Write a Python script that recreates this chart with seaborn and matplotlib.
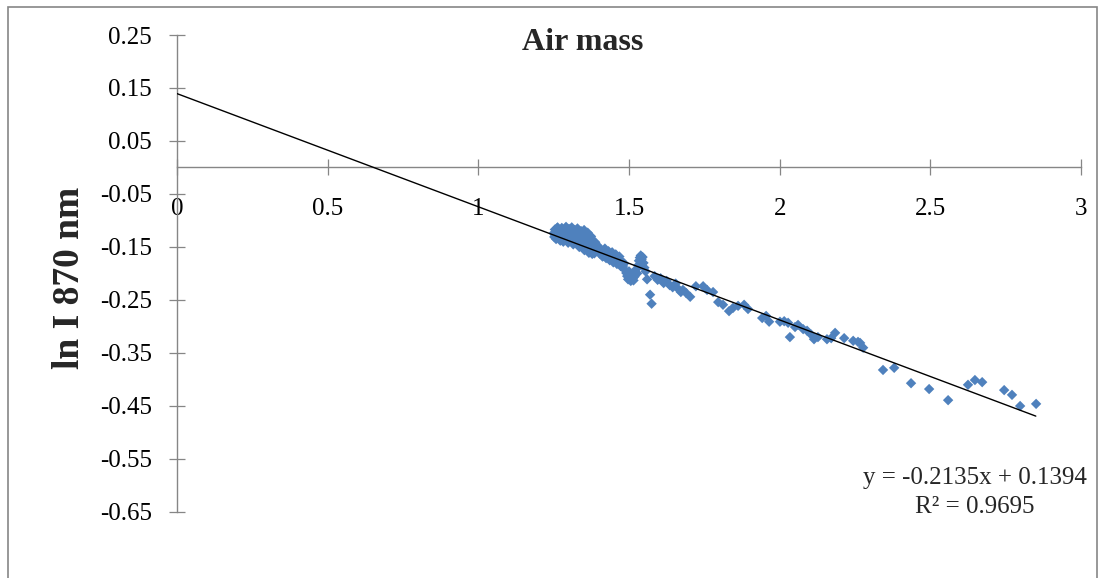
import numpy as np
import pandas as pd
import seaborn as sns
import matplotlib.pyplot as plt
from matplotlib.patches import Rectangle

# --- data ---
air_mass = [
    # dense morning cluster
    1.250, 1.252, 1.254, 1.256, 1.258, 1.261, 1.263, 1.266, 1.268, 1.270,
    1.272, 1.275, 1.277, 1.279, 1.282, 1.284, 1.286, 1.289, 1.291, 1.293,
    1.296, 1.298, 1.301, 1.303, 1.305, 1.308, 1.310, 1.312, 1.315, 1.317,
    1.320, 1.322, 1.324, 1.327, 1.329, 1.332, 1.334, 1.336, 1.339, 1.341,
    1.344, 1.346, 1.348, 1.351, 1.353, 1.356, 1.358, 1.361, 1.363, 1.366,
    1.368, 1.371, 1.374, 1.376, 1.379, 1.382, 1.385, 1.388, 1.391, 1.394,
    1.260, 1.272, 1.284, 1.296, 1.308, 1.320, 1.332, 1.344, 1.356, 1.368,
    1.265, 1.289, 1.301, 1.325, 1.337, 1.349, 1.361, 1.373, 1.385, 1.397,
    1.400, 1.404, 1.408, 1.412, 1.416, 1.420, 1.424, 1.428, 1.432, 1.436,
    1.440, 1.444, 1.448, 1.452, 1.456, 1.460, 1.464, 1.468, 1.472, 1.476,
    1.405, 1.415, 1.425, 1.435, 1.445, 1.455, 1.465, 1.475,
    1.480, 1.484, 1.488, 1.491, 1.494, 1.497, 1.500, 1.503, 1.506, 1.509,
    1.512, 1.515, 1.518, 1.521, 1.524, 1.527, 1.530, 1.533, 1.536, 1.539,
    1.542, 1.545, 1.548, 1.551, 1.555, 1.560, 1.570, 1.575,
    1.335, 1.352, 1.367, 1.378,
    # afternoon tail
    1.585, 1.595, 1.605, 1.615, 1.625, 1.635, 1.645, 1.655, 1.665, 1.672,
    1.679, 1.690, 1.703, 1.722, 1.746, 1.759, 1.779, 1.796, 1.812, 1.832,
    1.845, 1.862, 1.882, 1.895, 1.942, 1.955, 1.965, 2.001, 2.015, 2.028,
    2.034, 2.051, 2.061, 2.078, 2.091, 2.104, 2.114, 2.127, 2.157, 2.171,
    2.184, 2.214, 2.244, 2.260, 2.267, 2.277, 2.343, 2.380, 2.436, 2.496,
    2.559, 2.625, 2.648, 2.672, 2.745, 2.771, 2.798, 2.851,
]
ln_i_870 = [
    -0.124, -0.131, -0.117, -0.128, -0.135, -0.120, -0.113, -0.133, -0.126, -0.118,
    -0.138, -0.123, -0.114, -0.130, -0.140, -0.119, -0.127, -0.136, -0.112, -0.131,
    -0.124, -0.142, -0.116, -0.129, -0.137, -0.121, -0.113, -0.133, -0.145, -0.126,
    -0.118, -0.139, -0.130, -0.122, -0.115, -0.143, -0.134, -0.125, -0.148, -0.120,
    -0.131, -0.139, -0.127, -0.118, -0.145, -0.136, -0.128, -0.152, -0.123, -0.141,
    -0.133, -0.147, -0.130, -0.156, -0.138, -0.144, -0.150, -0.141, -0.158, -0.147,
    -0.115, -0.121, -0.129, -0.120, -0.126, -0.132, -0.127, -0.124, -0.131, -0.136,
    -0.129, -0.125, -0.134, -0.128, -0.138, -0.133, -0.142, -0.139, -0.162, -0.153,
    -0.150, -0.163, -0.156, -0.168, -0.160, -0.153, -0.171, -0.164, -0.158, -0.175,
    -0.166, -0.160, -0.179, -0.170, -0.164, -0.182, -0.174, -0.168, -0.186, -0.177,
    -0.157, -0.167, -0.161, -0.172, -0.167, -0.176, -0.171, -0.181,
    -0.186, -0.181, -0.194, -0.199, -0.205, -0.211, -0.196, -0.208, -0.214, -0.202,
    -0.209, -0.213, -0.206, -0.198, -0.192, -0.200, -0.185, -0.176, -0.170, -0.166,
    -0.173, -0.169, -0.180, -0.189, -0.196, -0.211, -0.240, -0.257,
    -0.150, -0.156, -0.161, -0.163,
    -0.205, -0.212, -0.209, -0.218, -0.214, -0.222, -0.226, -0.219, -0.230, -0.235,
    -0.231, -0.237, -0.244, -0.224, -0.224, -0.231, -0.235, -0.254, -0.259, -0.271,
    -0.265, -0.261, -0.259, -0.267, -0.284, -0.280, -0.291, -0.291, -0.290, -0.293,
    -0.320, -0.301, -0.297, -0.305, -0.308, -0.315, -0.324, -0.320, -0.324, -0.322,
    -0.312, -0.322, -0.327, -0.329, -0.331, -0.340, -0.382, -0.378, -0.407, -0.418,
    -0.439, -0.410, -0.401, -0.405, -0.420, -0.429, -0.450, -0.446,
]

slope, intercept = -0.2135, 0.1394
r_squared = 0.9695
fit_x = [0.0, 2.85]

x_ticks = [0, 0.5, 1, 1.5, 2, 2.5, 3]
x_tick_labels = ['0', '0.5', '1', '1.5', '2', '2.5', '3']
y_ticks = [0.25, 0.15, 0.05, -0.05, -0.15, -0.25, -0.35, -0.45, -0.55, -0.65]
y_tick_labels = ['0.25', '0.15', '0.05', '-0.05', '-0.15', '-0.25', '-0.35', '-0.45', '-0.55', '-0.65']

df = pd.DataFrame({'air_mass': air_mass, 'ln_i': ln_i_870})
fit = pd.DataFrame({'x': fit_x, 'y': [slope * v + intercept for v in fit_x]})

# --- style ---
sns.set_style('white')
plt.rcParams['font.family'] = ['Liberation Serif', 'DejaVu Serif']
plt.rcParams['axes.unicode_minus'] = False

fig = plt.figure(figsize=(11.06, 5.78), dpi=100)
ax = fig.add_axes([177 / 1106, 1 - 512 / 578, (1081 - 177) / 1106, (512 - 35) / 578])

sns.scatterplot(data=df, x='air_mass', y='ln_i', ax=ax, marker='D', s=28,
                color='#4F81BD', edgecolor='none', linewidth=0, zorder=3)
sns.lineplot(data=fit, x='x', y='y', ax=ax, color='black', linewidth=1.0, zorder=4)

ax.set_xlim(0, 3)
ax.set_ylim(-0.65, 0.25)
ax.set_xticks(x_ticks)
ax.set_xticklabels(x_tick_labels)
ax.set_yticks(y_ticks)
ax.set_yticklabels(y_tick_labels)

axis_grey = '#868686'
ax.spines['top'].set_visible(False)
ax.spines['right'].set_visible(False)
ax.spines['bottom'].set_position(('data', 0))
ax.spines['left'].set_position(('data', 0))
for s in ['bottom', 'left']:
    ax.spines[s].set_color(axis_grey)
    ax.spines[s].set_linewidth(1.0)

ax.tick_params(axis='both', direction='inout', length=12, width=0.9, color=axis_grey,
               labelsize=18, labelcolor='black')
ax.tick_params(axis='x', pad=16)
ax.tick_params(axis='y', pad=12)
ax.tick_params(bottom=True, left=True)

ax.set_xlabel('')
ax.set_ylabel('ln I 870 nm', fontsize=27, fontweight='bold')
ax.yaxis.set_label_coords(-0.100, 0.49)

fig.text(583 / 1106, 1 - 42 / 578, 'Air mass', fontsize=23, fontweight='bold',
         ha='center', va='center')
fig.text(975 / 1106, 1 - 478 / 578, f'y = {slope}x + {intercept}', fontsize=18,
         ha='center', va='center')
fig.text(975 / 1106, 1 - 507 / 578, f'R² = {r_squared}', fontsize=18,
         ha='center', va='center')

# outer chart frame
fig.patches.append(Rectangle((8 / 1106, -0.02), (1097 - 8) / 1106, 1 - 7 / 578 + 0.02,
                             transform=fig.transFigure, fill=False,
                             edgecolor='#868686', linewidth=1.2))

fig.savefig('out.png', dpi=100)
